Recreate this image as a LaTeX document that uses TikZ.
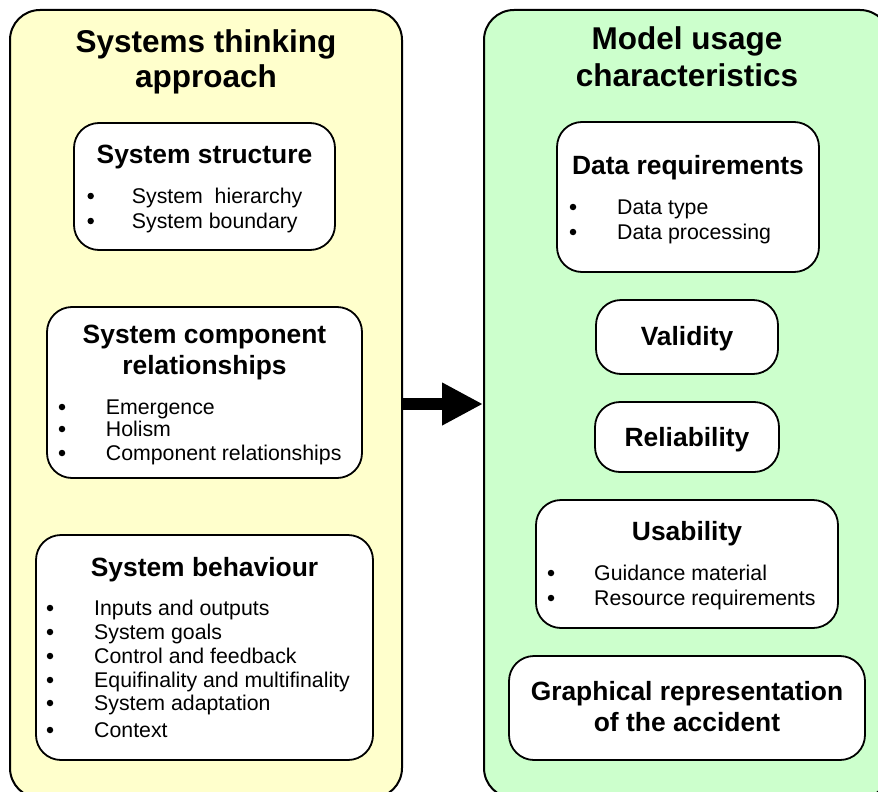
\documentclass[tikz,border=0pt]{standalone}
\usepackage{fontspec}
\setmainfont{Liberation Sans}
\usepackage{tikz}
\usetikzlibrary{arrows.meta,positioning}
\definecolor{panelyellow}{HTML}{FFFFCC}
\definecolor{panelgreen}{HTML}{CCFFCC}

\begin{document}
\begin{tikzpicture}[x=1pt,y=-1pt,
panel/.style={rectangle,rounded corners=30pt,draw=black,line width=2pt,minimum height=788pt},
card/.style={rectangle,rounded corners=25pt,draw=black,line width=1.8pt,fill=white},
panelhead/.style={anchor=base,inner sep=0pt,font=\fontsize{31.5}{36}\selectfont\bfseries},
cardhead/.style={anchor=base,inner sep=0pt,font=\fontsize{26.4}{30}\selectfont\bfseries},
carditem/.style={anchor=base west,inner sep=0pt,font=\fontsize{21.3}{24}\selectfont},
carddot/.style={circle,fill=black,inner sep=0pt,minimum size=6.5pt},
bigarrow/.style={line width=12pt,-{Triangle[length=41pt,width=40pt]}}]
\useasboundingbox (0,0) rectangle (878,792);
\clip (0,0) rectangle (878,792);

% the two columns
\node (lpanel) [panel,fill=panelyellow,minimum width=392pt] at (206,404) {};
\node (rpanel) [panel,fill=panelgreen,minimum width=406pt] at (687,404) {};
\node (lhead1) [panelhead] at (206,53) {Systems thinking};
\node (lhead2) [panelhead] at (206,88) {approach};
\node (rhead1) [panelhead] at (687,50) {Model usage};
\node (rhead2) [panelhead] at (687,86) {characteristics};

\draw[bigarrow] (lpanel) -- (rpanel);

% left column
\node (struct) [card,minimum width=261pt,minimum height=127pt] at (204.5,186.5) {};
\node (structhead) [cardhead] at (204.5,163) {System structure};
\foreach \y/\t [count=\i] in {203.6/System~ hierarchy,228.6/System boundary}
{ \node (structdot\i) [carddot] at (90.7,\y-7.6) {};
  \node (structitem\i) [carditem] at (131.7,\y) {\t}; }

\node (relat) [card,minimum width=315pt,minimum height=171pt] at (204.5,392.5) {};
\node (relathead1) [cardhead] at (204.5,343) {System component};
\node (relathead2) [cardhead] at (204.5,374) {relationships};
\foreach \y/\t [count=\i] in {414.6/Emergence,436.6/Holism,460.6/Component relationships}
{ \node (relatdot\i) [carddot] at (62,\y-7.6) {};
  \node (relatitem\i) [carditem] at (105.7,\y) {\t}; }

\node (behav) [card,minimum width=337pt,minimum height=225pt] at (204.5,647.5) {};
\node (behavhead) [cardhead] at (204.5,576) {System behaviour};
\foreach \y/\t [count=\i] in {615.6/Inputs and outputs,639.6/System goals,663.6/Control and feedback,
  687.6/Equifinality and multifinality,710.6/System adaptation,737.6/Context}
{ \node (behavdot\i) [carddot] at (50,\y-7.6) {};
  \node (behavitem\i) [carditem] at (94,\y) {\t}; }

% right column
\node (data) [card,minimum width=262pt,minimum height=150pt] at (688,197) {};
\node (datahead) [cardhead] at (688,174) {Data requirements};
\foreach \y/\t [count=\i] in {214.6/Data type,239.6/Data processing}
{ \node (datadot\i) [carddot] at (573,\y-7.6) {};
  \node (dataitem\i) [carditem] at (617,\y) {\t}; }

\node (valid) [card,minimum width=182pt,minimum height=74pt] at (687,337) {};
\node (validhead) [cardhead] at (687,345.5) {Validity};

\node (reliab) [card,minimum width=184pt,minimum height=70pt] at (687,437) {};
\node (reliabhead) [cardhead] at (687,446.5) {Reliability};

\node (usab) [card,minimum width=302pt,minimum height=128pt] at (687,564) {};
\node (usabhead) [cardhead] at (687,540.5) {Usability};
\foreach \y/\t [count=\i] in {580.6/Guidance material,605.6/Resource requirements}
{ \node (usabdot\i) [carddot] at (551,\y-7.6) {};
  \node (usabitem\i) [carditem] at (594,\y) {\t}; }

\node (graph) [card,minimum width=356pt,minimum height=104pt] at (687,708) {};
\node (graphhead1) [cardhead] at (687,700.5) {Graphical representation};
\node (graphhead2) [cardhead] at (687,731) {of the accident};

\end{tikzpicture}
\end{document}
